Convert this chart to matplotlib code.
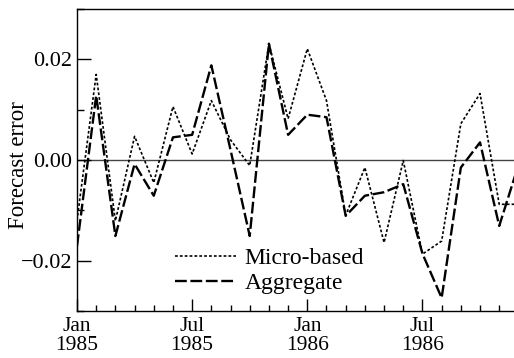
import matplotlib
matplotlib.use("Agg")
import matplotlib.pyplot as plt
from matplotlib.ticker import MultipleLocator, FixedLocator, FixedFormatter
import numpy as np

plt.rcParams['font.family'] = ['Liberation Serif', 'DejaVu Serif']
plt.rcParams['lines.scale_dashes'] = False

# months since Jan 1985 (0 = Jan 1985 ... 23 = Dec 1986)
months = np.arange(24)
micro_based = [-0.012, 0.0170, -0.0121, 0.0047, -0.0045, 0.0106, 0.0012, 0.0118,
               0.0040, -0.0011, 0.0231, 0.0082, 0.0221, 0.0118, -0.0110, -0.0015,
               -0.0164, -0.0001, -0.0187, -0.0161, 0.0072, 0.0132, -0.0088, -0.0088]
aggregate = [-0.0171, 0.0128, -0.0151, -0.0008, -0.0071, 0.0045, 0.0050, 0.0188,
             0.0020, -0.0151, 0.0231, 0.0050, 0.0090, 0.0085, -0.0111, -0.0071,
             -0.0064, -0.0048, -0.0186, -0.0274, -0.0015, 0.0035, -0.0131, -0.0010]
tick_months = [0, 6, 12, 18]
tick_labels = ["Jan\n1985", "Jul\n1985", "Jan\n1986", "Jul\n1986"]
y_ticks = [-0.02, 0.0, 0.02]
y_labels = ["\u22120.02", "0.00", "0.02"]

fig = plt.figure(figsize=(5.14, 3.58), dpi=100)
ax = fig.add_axes([0.1498, 0.1313, 0.8502, 0.8436])

ax.axhline(0, color='#444444', lw=1.0, zorder=1)
ax.plot(months, micro_based, color='black', lw=1.2, dashes=(2.0, 1.5), label='Micro-based')
ax.plot(months, aggregate, color='black', lw=1.7, dashes=(8.5, 2.6), label='Aggregate')

ax.set_xlim(0, 22.77)
ax.set_ylim(-0.03, 0.03)

ax.xaxis.set_major_locator(FixedLocator(tick_months))
ax.xaxis.set_major_formatter(FixedFormatter(tick_labels))
ax.xaxis.set_minor_locator(MultipleLocator(1))
ax.yaxis.set_major_locator(FixedLocator(y_ticks))
ax.yaxis.set_major_formatter(FixedFormatter(y_labels))
ax.yaxis.set_minor_locator(MultipleLocator(0.01))

ax.tick_params(which='both', direction='in', width=1.0)
ax.tick_params(axis='x', which='major', length=8.5, pad=4, labelsize=15.5)
ax.tick_params(axis='x', which='minor', length=4.3)
ax.tick_params(axis='y', which='major', length=10, pad=3.5, labelsize=16)
ax.tick_params(axis='y', which='minor', length=5)
for lab in ax.get_xticklabels():
    lab.set_linespacing(1.05)

for s in ['left', 'bottom', 'top']:
    ax.spines[s].set_linewidth(1.0)
ax.spines['right'].set_visible(False)

# y label placed directly so it sits where the reference has it
fig.text(18.5 / 514, 1 - 165 / 358, "Forecast error", fontsize=16.5,
         rotation=90, ha='center', va='center')

ax.legend(loc='center left', bbox_to_anchor=(0.2243, 0.1325), frameon=False,
          fontsize=17, handlelength=2.6, handletextpad=0.34, labelspacing=0.15,
          borderpad=0, borderaxespad=0)

fig.savefig("out.png", dpi=100)
